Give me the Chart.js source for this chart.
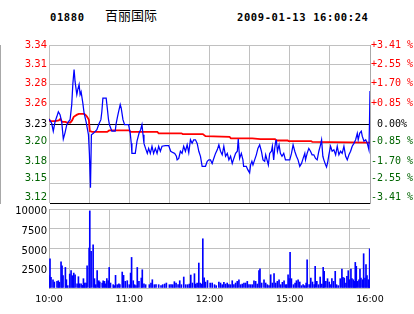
<!DOCTYPE html>
<html>
<head>
<meta charset="utf-8">
<script src="https://cdn.jsdelivr.net/npm/chart.js@4.4.1/dist/chart.umd.min.js"></script>
<style>
  body { margin: 0; background: #fff; }
  #wrap { position: relative; width: 414px; height: 314px; overflow: hidden; background: #fff; }
  canvas { position: absolute; left: 0; }
  .hd { position: absolute; top: 11px; font-family: "DejaVu Sans Mono"; font-weight: bold;
        font-size: 10.5px; letter-spacing: 0.6px; color: #000; white-space: nowrap; }
  .name { position: absolute; top: 5px; left: 105px; font-family: "Noto Sans CJK SC";
          font-size: 13px; color: #000; white-space: nowrap; }
</style>
</head>
<body>
<div id="wrap">
  <div class="hd" style="left:50px">01880</div>
  <div class="name">百丽国际</div>
  <div class="hd" style="left:237px">2009-01-13 16:00:24</div>
  <canvas id="priceChart" style="top:0" width="414" height="213"></canvas>
  <canvas id="volChart" style="top:200px" width="414" height="114"></canvas>
</div>
<script>
// previous close and the +/- percent band of the price panel
const prevClose = 3.23;
const pctRange = 3.41;

const priceLabels = ['3.12', '3.15', '3.18', '3.20', '3.23', '3.26', '3.28', '3.31', '3.34'];
const pctLabels = ['-3.41 %', '-2.55 %', '-1.70 %', '-0.85 %', ' 0.00%', '+0.85 %', '+1.70 %', '+2.55 %', '+3.41 %'];

// minutes of trading time since 10:00 (lunch break removed)
const timeTicks = [0, 60, 120, 180, 240];
const timeLabels = ['10:00', '11:00', '12:00', '15:00', '16:00'];

// last price
const priceTimes = [
  0, 2, 3.2, 4.5, 5.8, 7, 8.25, 9.5, 10.7, 12,
  13.3, 14.5, 15.75, 17, 17.8, 18.75, 19.5, 20.8, 21.5, 22.5,
  23.25, 24, 25.3, 26.25, 27.75, 29.5, 30.2, 31, 31.7, 33.2,
  35.8, 37.3, 38.8, 39.5, 40.3, 42.75, 43.7, 44.5, 45.2, 47,
  49.5, 50.25, 51.2, 52, 53.25, 54, 55.3, 56.5, 59.5, 60.75,
  61.5, 62, 64.5, 65.8, 67.3, 68.5, 69.5, 70.3, 71, 72.2,
  73.5, 74.5, 75.75, 77, 78.2, 79.5, 80.8, 82, 83.25, 84.5,
  87, 89.5, 91, 92.8, 94, 95.25, 95.8, 97, 98.25, 99.5,
  100.7, 102, 103.3, 104.5, 105.75, 107, 108.2, 109.5, 110.8, 112,
  113.25, 114.5, 117, 118.3, 119.5, 120.75, 122, 123.2, 124.5, 125.8,
  127, 128.25, 129.5, 130.7, 132, 133.3, 134.5, 135.75, 137, 138.2,
  139.5, 140.8, 141.5, 142.5, 143.8, 145, 145.5, 147.5, 148.7, 150,
  150.75, 151.7, 152.5, 153.75, 155, 156.2, 157.5, 158.8, 160, 161.25,
  162, 163, 164, 165, 166.3, 167, 168, 168.75, 169.5, 170,
  170.8, 172, 173, 174.2, 175.5, 176.8, 180, 181.3, 182.5, 183.75,
  185, 186.2, 187.5, 188.8, 190, 191.25, 191.8, 193, 194.25, 195.5,
  196.7, 198, 199.3, 200.5, 201.75, 203, 203.8, 204.75, 205.5, 206.8,
  207.5, 208.5, 209.25, 210.5, 211.7, 213, 214.3, 215.5, 216.75, 218,
  219.2, 220.5, 221.8, 223, 224.25, 225.5, 226.7, 228, 229.25, 230.5,
  231.2, 232.25, 233.5, 234.2, 235.5, 236.8, 238, 239.2, 239.6, 240
];
const prices = [
  3.237, 3.231, 3.220, 3.233, 3.240, 3.247, 3.243, 3.233, 3.209, 3.218,
  3.229, 3.233, 3.236, 3.257, 3.285, 3.306, 3.289, 3.271, 3.278, 3.285,
  3.271, 3.275, 3.259, 3.245, 3.233, 3.215, 3.189, 3.141, 3.215, 3.217,
  3.222, 3.230, 3.236, 3.247, 3.266, 3.266, 3.250, 3.236, 3.229, 3.220,
  3.220, 3.231, 3.240, 3.247, 3.257, 3.252, 3.236, 3.229, 3.229, 3.217,
  3.203, 3.189, 3.189, 3.206, 3.217, 3.222, 3.229, 3.215, 3.203, 3.196,
  3.189, 3.196, 3.189, 3.199, 3.189, 3.196, 3.189, 3.199, 3.192, 3.199,
  3.200, 3.200, 3.192, 3.190, 3.189, 3.185, 3.180, 3.182, 3.192, 3.189,
  3.199, 3.192, 3.201, 3.190, 3.208, 3.203, 3.208, 3.208, 3.203, 3.192,
  3.185, 3.171, 3.171, 3.178, 3.180, 3.180, 3.175, 3.182, 3.189, 3.194,
  3.201, 3.192, 3.187, 3.199, 3.185, 3.189, 3.180, 3.185, 3.175, 3.182,
  3.189, 3.192, 3.209, 3.182, 3.189, 3.180, 3.171, 3.171, 3.166, 3.162,
  3.173, 3.178, 3.173, 3.180, 3.187, 3.196, 3.201, 3.192, 3.180, 3.178,
  3.187, 3.180, 3.173, 3.189, 3.192, 3.199, 3.180, 3.196, 3.206, 3.207,
  3.192, 3.201, 3.189, 3.185, 3.189, 3.180, 3.180, 3.189, 3.201, 3.192,
  3.185, 3.180, 3.171, 3.175, 3.182, 3.189, 3.180, 3.189, 3.196, 3.192,
  3.187, 3.187, 3.182, 3.180, 3.192, 3.201, 3.208, 3.185, 3.180, 3.173,
  3.170, 3.178, 3.187, 3.199, 3.192, 3.194, 3.187, 3.199, 3.187, 3.192,
  3.189, 3.199, 3.185, 3.180, 3.187, 3.192, 3.199, 3.203, 3.208, 3.217,
  3.208, 3.217, 3.220, 3.213, 3.206, 3.208, 3.203, 3.194, 3.230, 3.276
];

// average price
const avgTimes = [
  0, 0.75, 4.7, 7.3, 8.5, 9.75, 12.2, 13.5, 16, 17.25,
  18.5, 21, 22.3, 26, 27.2, 28.5, 29.8, 30.5, 32.25, 43.5,
  45, 60, 61, 81, 82, 99, 100, 115, 117, 135,
  136, 152, 158, 169, 170, 178.5, 179, 196, 197, 240
];
const avgPrices = [
  3.237, 3.234, 3.234, 3.235, 3.237, 3.233, 3.233, 3.232, 3.232, 3.235,
  3.240, 3.243, 3.244, 3.244, 3.243, 3.240, 3.236, 3.220, 3.219, 3.219,
  3.221, 3.221, 3.219, 3.219, 3.217, 3.217, 3.216, 3.216, 3.213, 3.212,
  3.210, 3.210, 3.209, 3.209, 3.207, 3.207, 3.206, 3.206, 3.205, 3.204
];

// volume
const volTimes = [
  0, 0.75, 1.5, 3, 4, 6, 7, 7.75, 9, 9.75,
  10.5, 12.25, 13, 14, 15.5, 16.5, 17.5, 18.5, 19.5, 21,
  22, 22.75, 24, 25, 25.75, 26.75, 27.75, 28.5, 30, 30.5,
  31.5, 33, 34, 35, 36, 37.25, 38, 39.75, 40.5, 41.5,
  42.5, 43.25, 44.25, 45, 46, 48, 48.75, 49.75, 51, 52.25,
  53, 54.75, 55.75, 57, 58.5, 60, 61, 61.75, 63, 64,
  65, 66, 67.25, 69, 69.75, 71, 72.25, 75, 76.25, 77.25,
  78.75, 80, 82, 83.75, 85, 86.5, 87.75, 90, 91.25, 92.5,
  93.75, 95, 96.5, 97.75, 99, 100.75, 102.25, 103.75, 105, 106,
  107.25, 108.75, 109.75, 110.75, 112, 113, 114, 115, 116, 117,
  118.5, 120.5, 122, 123.75, 125, 127, 128.25, 129.5, 130.75, 132,
  133.25, 134.5, 135.75, 137, 138.25, 139.5, 140.75, 142, 143.25, 144.5,
  145.75, 147, 148.25, 149.5, 150.75, 152, 153.25, 154.5, 155.75, 157,
  157.75, 159, 160.75, 162, 163.25, 164.5, 165.75, 167, 168.25, 169.5,
  170.75, 172, 173.25, 174.5, 175.75, 177, 177.75, 178.75, 179.5, 180.25,
  181.25, 182.75, 184, 185, 186.25, 187.5, 188.75, 190, 191.25, 192.25,
  193, 194.5, 195.75, 197, 198.25, 199, 200.25, 201.5, 202.75, 204,
  205, 205.75, 207, 208.25, 209.5, 210.75, 211.5, 212.75, 214, 215,
  216.25, 217.75, 219, 219.75, 220.75, 222, 222.75, 223.75, 224.75, 225.75,
  226.5, 227.5, 228.25, 229, 229.75, 230.75, 231.75, 232.5, 233.25, 234.5,
  235.25, 236.25, 237, 237.75, 238.75, 239.25, 239.75, 240
];
const volumes = [
  1560, 3700, 1340, 1050, 760, 840, 920, 720, 3320, 2820,
  1560, 2600, 1050, 300, 1770, 2190, 1560, 1890, 1680, 540,
  1430, 540, 540, 340, 1180, 630, 630, 2820, 5050, 9760,
  4630, 5470, 1180, 420, 2220, 920, 760, 630, 920, 840,
  540, 1180, 920, 2600, 630, 420, 300, 1600, 420, 540,
  420, 2020, 1600, 840, 920, 420, 1890, 3870, 920, 420,
  300, 2600, 840, 1260, 2310, 540, 420, 420, 630, 1050,
  420, 420, 420, 300, 420, 505, 630, 420, 420, 420,
  800, 630, 420, 920, 420, 1390, 420, 420, 500, 1640,
  630, 1810, 500, 630, 3160, 630, 505, 6230, 1300, 750,
  950, 630, 630, 420, 300, 760, 630, 420, 720, 500,
  630, 420, 420, 920, 420, 630, 840, 1050, 420, 500,
  630, 630, 840, 420, 420, 420, 920, 840, 500, 2190,
  2440, 630, 1050, 630, 420, 300, 1680, 630, 1810, 630,
  840, 1050, 420, 720, 920, 420, 420, 1680, 1180, 4500,
  1180, 420, 630, 920, 1050, 760, 300, 420, 300, 630,
  3580, 420, 1260, 760, 420, 2740, 840, 420, 1390, 500,
  2610, 2110, 840, 1180, 760, 420, 1180, 840, 2110, 420,
  300, 1180, 2400, 1350, 1260, 630, 1470, 2190, 1050, 2400,
  1180, 1050, 840, 3240, 2740, 840, 1050, 2400, 1260, 1050,
  4340, 1260, 2950, 1560, 1050, 760, 4970, 1390
];

const RED = '#ff0000';
const GREEN = '#006400';
const GRID = '#c0c0c0';
const AXIS = '#a8a8a8';

// layout of the price panel
const PLOT_H = 158;
// the band labels sit a little off their grid lines (px, upward), bottom to top
const labelNudge = [5.2, 4.7, 2.5, 1.9, -0.5, 0.8, 1, 0.2, -0.7];

const lo = prevClose * (1 - pctRange / 100);
const hi = prevClose * (1 + pctRange / 100);
const gridValue = i => lo + (hi - lo) * i / (priceLabels.length - 1);

function gridTicks(scale) {
  scale.ticks = priceLabels.map((_, i) => ({ value: gridValue(i) }));
}
function labelTicks(scale) {
  const perPx = (hi - lo) / PLOT_H;
  scale.ticks = priceLabels.map((_, i) => ({ value: gridValue(i) + labelNudge[i] * perPx }));
}
function bandColor(ctx) {
  if (ctx.index < 4) return GREEN;
  if (ctx.index === 4) return '#000';
  return RED;
}

new Chart(document.getElementById('priceChart'), {
  type: 'line',
  data: {
    datasets: [
      {
        data: priceTimes.map((t, i) => ({ x: t, y: prices[i] })),
        borderColor: '#0000ff',
        borderWidth: 1.25,
        pointRadius: 0,
        tension: 0,
        yAxisID: 'y'
      },
      {
        data: avgTimes.map((t, i) => ({ x: t, y: avgPrices[i] })),
        borderColor: RED,
        borderWidth: 1.8,
        pointRadius: 0,
        tension: 0,
        yAxisID: 'y'
      }
    ]
  },
  options: {
    responsive: false,
    animation: false,
    events: [],
    layout: { padding: { top: 45, bottom: 10, left: 0, right: 0 } },
    plugins: { legend: { display: false }, tooltip: { enabled: false } },
    scales: {
      x: {
        type: 'linear', min: 0, max: 240,
        ticks: { stepSize: 30, display: false },
        grid: { color: GRID, drawTicks: false },
        border: { display: false },
        afterFit: s => { s.height = 0; }
      },
      y: {
        position: 'left', min: lo, max: hi,
        afterBuildTicks: labelTicks,
        afterFit: s => { s.width = 49; },
        ticks: {
          callback: (v, i) => priceLabels[i],
          color: bandColor,
          padding: 2,
          font: { family: 'DejaVu Sans', size: 10 }
        },
        grid: { display: false, drawTicks: false },
        border: { display: false }
      },
      yg: {
        position: 'left', min: lo, max: hi,
        afterBuildTicks: gridTicks,
        afterFit: s => { s.width = 0; },
        ticks: { display: false },
        grid: {
          color: ctx => (ctx.index === 0 || ctx.index === 4) ? '#000' : GRID,
          drawTicks: false
        },
        border: { color: AXIS }
      },
      y2: {
        position: 'right', min: lo, max: hi,
        afterBuildTicks: labelTicks,
        afterFit: s => { s.width = 44; },
        ticks: {
          callback: (v, i) => pctLabels[i],
          color: bandColor,
          padding: 1,
          font: { family: 'DejaVu Sans Mono', size: 10 }
        },
        grid: { display: false, drawTicks: false },
        border: { color: AXIS }
      }
    }
  }
});

new Chart(document.getElementById('volChart'), {
  type: 'bar',
  data: {
    datasets: [{
      data: volTimes.map((t, i) => ({ x: t, y: volumes[i] })),
      backgroundColor: '#0000ff',
      barThickness: 1
    }]
  },
  options: {
    responsive: false,
    animation: false,
    events: [],
    layout: { padding: { top: 9, bottom: 6, left: 0, right: 44 } },
    plugins: { legend: { display: false }, tooltip: { enabled: false } },
    scales: {
      x: {
        type: 'linear', min: 0, max: 240, offset: false,
        afterFit: s => { s.height = 20; },
        ticks: {
          stepSize: 30, autoSkip: false, maxRotation: 0, padding: 6,
          color: '#000',
          font: { family: 'DejaVu Sans', size: 9.5 },
          callback: v => {
            const k = timeTicks.indexOf(v);
            return k >= 0 ? timeLabels[k] : '';
          }
        },
        grid: { color: GRID, drawTicks: false },
        border: { display: false }
      },
      y: {
        min: 0, max: 10000,
        afterFit: s => { s.width = 49; },
        ticks: {
          stepSize: 2500, padding: 2, color: '#000', labelOffset: 2.5,
          font: { family: 'DejaVu Sans', size: 10 },
          callback: v => v === 0 ? '' : String(v)
        },
        grid: { color: GRID, drawTicks: false },
        border: { color: AXIS }
      }
    }
  }
});
</script>
</body>
</html>
